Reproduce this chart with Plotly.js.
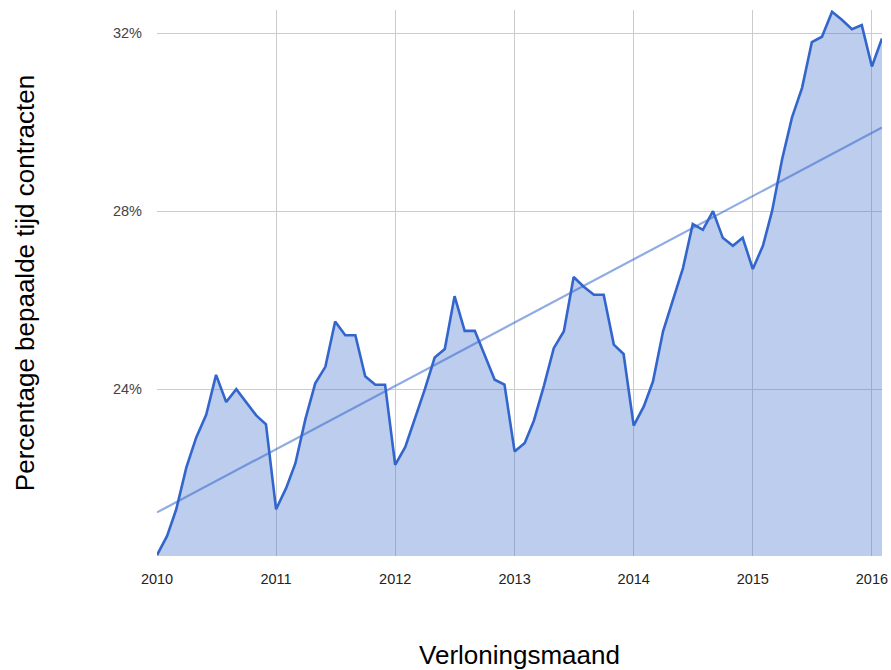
<!DOCTYPE html>
<html>
<head>
<meta charset="utf-8">
<script src="https://cdn.plot.ly/plotly-3.0.1.min.js"></script>
<style>
  html, body { margin: 0; padding: 0; background: #fff; }
  #chart { width: 891px; height: 670px; }
</style>
</head>
<body>
<div id="chart"></div>
<script>
// Monthly periods (Verloningsmaand)
const months = [
  "2010-01-01","2010-02-01","2010-03-01","2010-04-01","2010-05-01","2010-06-01",
  "2010-07-01","2010-08-01","2010-09-01","2010-10-01","2010-11-01","2010-12-01",
  "2011-01-01","2011-02-01","2011-03-01","2011-04-01","2011-05-01","2011-06-01",
  "2011-07-01","2011-08-01","2011-09-01","2011-10-01","2011-11-01","2011-12-01",
  "2012-01-01","2012-02-01","2012-03-01","2012-04-01","2012-05-01","2012-06-01",
  "2012-07-01","2012-08-01","2012-09-01","2012-10-01","2012-11-01","2012-12-01",
  "2013-01-01","2013-02-01","2013-03-01","2013-04-01","2013-05-01","2013-06-01",
  "2013-07-01","2013-08-01","2013-09-01","2013-10-01","2013-11-01","2013-12-01",
  "2014-01-01","2014-02-01","2014-03-01","2014-04-01","2014-05-01","2014-06-01",
  "2014-07-01","2014-08-01","2014-09-01","2014-10-01","2014-11-01","2014-12-01",
  "2015-01-01","2015-02-01","2015-03-01","2015-04-01","2015-05-01","2015-06-01",
  "2015-07-01","2015-08-01","2015-09-01","2015-10-01","2015-11-01","2015-12-01",
  "2016-01-01","2016-02-01"
];

// Percentage fixed-term contracts
const percentages = [
  20.27, 20.70, 21.30, 22.24, 22.91, 23.43, 24.32, 23.71, 24.00, 23.71, 23.41, 23.21,
  21.30, 21.78, 22.33, 23.33, 24.13, 24.50, 25.52, 25.21, 25.21, 24.29, 24.10, 24.10,
  22.30, 22.70, 23.33, 24.00, 24.71, 24.90, 26.09, 25.31, 25.31, 24.79, 24.21, 24.10,
  22.60, 22.79, 23.29, 24.08, 24.92, 25.30, 26.52, 26.30, 26.12, 26.12, 25.00, 24.79,
  23.18, 23.61, 24.17, 25.30, 26.00, 26.72, 27.71, 27.58, 28.00, 27.40, 27.22, 27.40,
  26.70, 27.22, 28.00, 29.17, 30.10, 30.77, 31.80, 31.92, 32.48, 32.30, 32.09, 32.18,
  31.25, 31.88
];

// Trend line end points
const trendX = ["2010-01-01", "2016-02-01"];
const trendY = [21.23, 29.88];

const yTicks = [24, 28, 32];
const yTickLabels = ["24%", "28%", "32%"];
const xRange = ["2010-01-01", "2016-02-01"];
const yRange = [20.25, 32.52];

const font = "Liberation Sans, Arial, Helvetica, sans-serif";

const traces = [
  {
    x: months,
    y: percentages,
    type: "scatter",
    mode: "lines",
    fill: "tozeroy",
    fillcolor: "rgba(51,102,204,0.33)",
    line: { color: "#3366cc", width: 2.6 },
    hoverinfo: "x+y"
  },
  {
    x: trendX,
    y: trendY,
    type: "scatter",
    mode: "lines",
    line: { color: "rgba(51,102,204,0.55)", width: 2.2 },
    hoverinfo: "skip"
  }
];

const layout = {
  width: 891,
  height: 670,
  margin: { l: 157, r: 9, t: 10, b: 114, pad: 0 },
  paper_bgcolor: "#ffffff",
  plot_bgcolor: "#ffffff",
  showlegend: false,
  font: { family: font },
  xaxis: {
    type: "date",
    range: xRange,
    tick0: "2010-01-01",
    dtick: "M12",
    tickformat: "%Y",
    showgrid: true,
    gridcolor: "#cccccc",
    gridwidth: 1,
    zeroline: false,
    showline: false,
    ticks: "",
    ticklabelstandoff: 12,
    tickfont: { family: font, size: 14.5, color: "#222222" },
    title: {
      text: "Verloningsmaand",
      font: { family: font, size: 26, color: "#000000" },
      standoff: 61
    },
    fixedrange: true
  },
  yaxis: {
    range: yRange,
    tickmode: "array",
    tickvals: yTicks,
    ticktext: yTickLabels,
    showgrid: true,
    gridcolor: "#cccccc",
    gridwidth: 1,
    zeroline: false,
    showline: false,
    ticks: "",
    ticklabelstandoff: 14,
    tickfont: { family: font, size: 14.5, color: "#444444" },
    title: {
      text: "Percentage bepaalde tijd contracten",
      font: { family: font, size: 26, color: "#000000" },
      standoff: 70
    },
    fixedrange: true
  }
};

Plotly.newPlot("chart", traces, layout, { displayModeBar: false, staticPlot: true });
</script>
</body>
</html>
